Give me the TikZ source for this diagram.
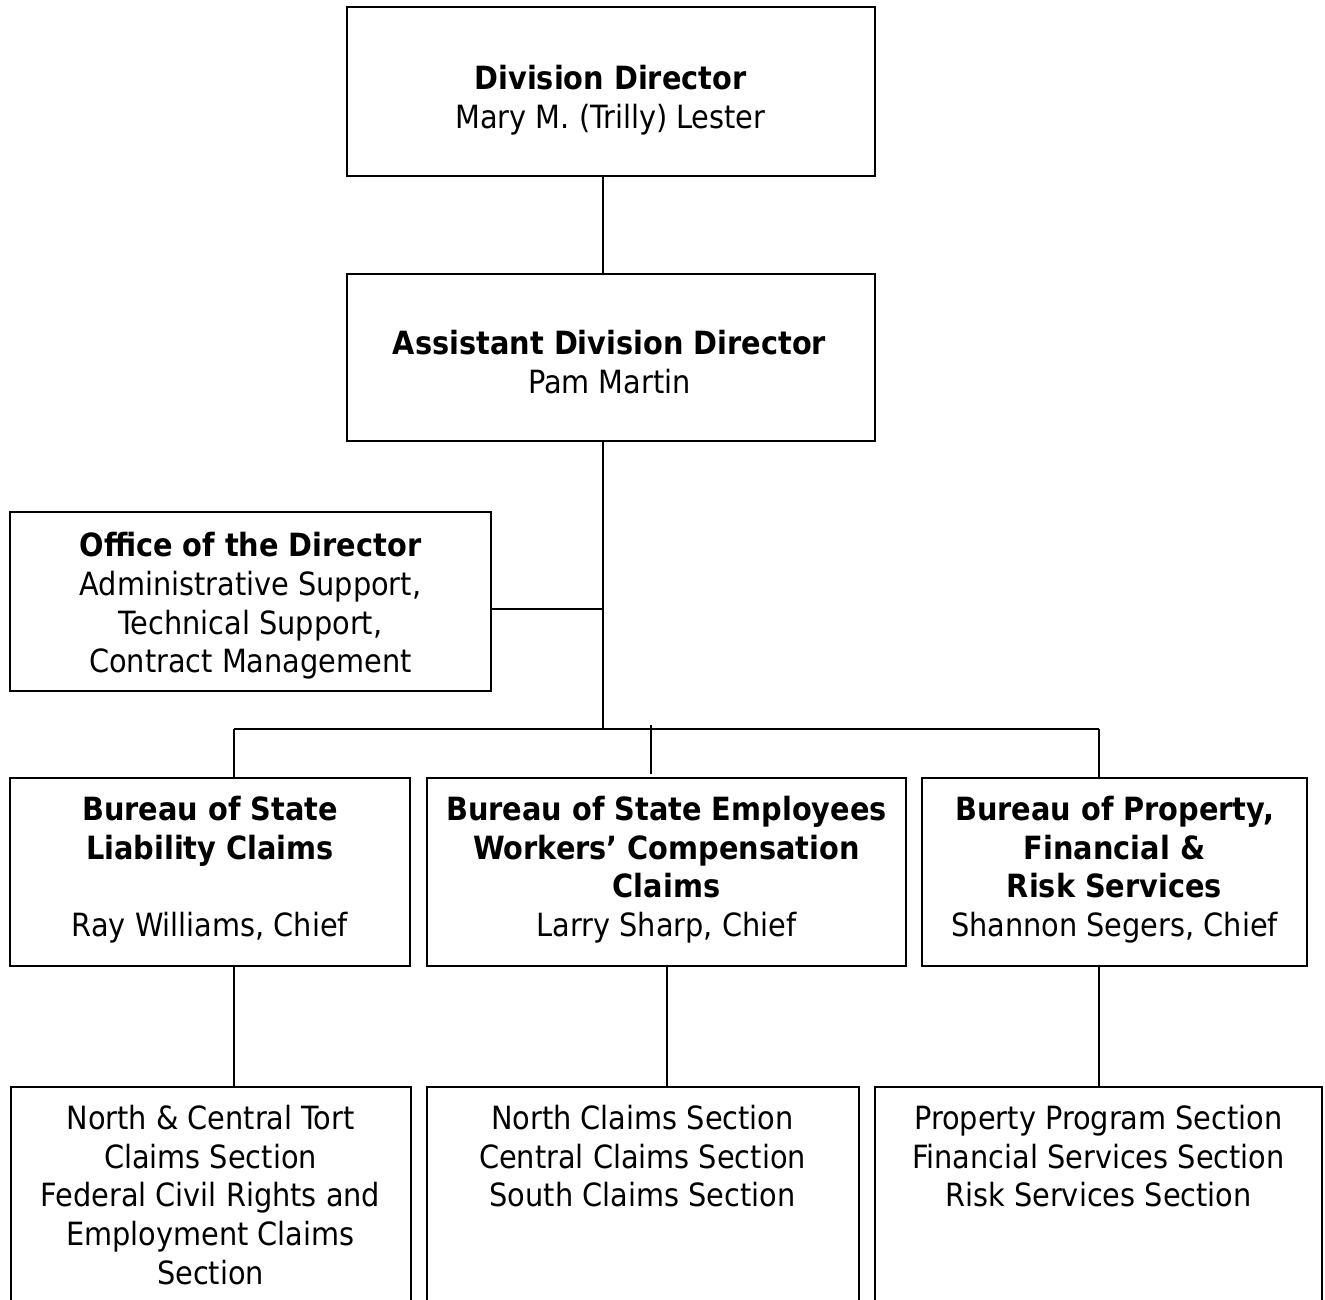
\documentclass[tikz,border=0pt]{standalone}
\usepackage{fontspec}
\setmainfont{DejaVu Sans Condensed}
\begin{document}
\begin{tikzpicture}[x=0.5pt,y=-0.5pt,
  box/.style={draw,line width=1pt,inner sep=0pt},
  txt/.style={inner sep=0pt,align=center,font=\fontsize{16}{19.3}\selectfont},
  conn/.style={line width=1pt}]
\useasboundingbox (0,0) rectangle (1325,1299);
\clip (0,0) rectangle (1325,1299);
% boxes
\node[box,minimum width=264pt,minimum height=84.5pt] (dd) at (610.5,92) {};
\node[box,minimum width=264pt,minimum height=83.5pt] (add) at (610.5,357.5) {};
\node[box,minimum width=240.5pt,minimum height=89.5pt] (off) at (250.5,601.5) {};
\node[box,minimum width=200pt,minimum height=94pt] (b1) at (210,872) {};
\node[box,minimum width=239.5pt,minimum height=94pt] (b2) at (666.5,872) {};
\node[box,minimum width=192.5pt,minimum height=94pt] (b3) at (1114.5,872) {};
% section boxes (bottom edge runs off the page)
\node[box,minimum width=200pt,minimum height=130pt,anchor=north] (s1) at (210.5,1086) {};
\node[box,minimum width=216pt,minimum height=130pt,anchor=north] (s2) at (642.5,1086) {};
\node[box,minimum width=223.5pt,minimum height=130pt,anchor=north] (s3) at (1098.5,1086) {};
% texts
\node[txt] (ddt) at (610.5,100) {\textbf{Division Director}\\Mary M. (Trilly) Lester};
\node[txt] (addt) at (609.5,362) {\textbf{Assistant Division Director}\\Pam Martin};
\node[txt] (offt) at (250.5,606) {\textbf{Office of the Director}\\Administrative Support,\\Technical Support,\\Contract Management};
\node[txt] (b1t) at (210,869.5) {\textbf{Bureau of State}\\\textbf{Liability Claims}\\[19.3pt]Ray Williams, Chief};
\node[txt] (b2t) at (666.5,869.5) {\textbf{Bureau of State Employees}\\\textbf{Workers' Compensation}\\\textbf{Claims}\\Larry Sharp, Chief};
\node[txt] (b3t) at (1114.5,869.5) {\textbf{Bureau of Property,}\\\textbf{Financial \&}\\\textbf{Risk Services}\\Shannon Segers, Chief};
\node[txt,anchor=north] (t1) at (210.5,1105) {North \& Central Tort\\Claims Section\\Federal Civil Rights and\\Employment Claims\\Section};
\node[txt,anchor=north] (t2) at (642.5,1105) {North Claims Section\\Central Claims Section\\South Claims Section};
\node[txt,anchor=north] (t3) at (1098.5,1105) {Property Program Section\\Financial Services Section\\Risk Services Section};
% junction coordinates
\coordinate (trunk) at (603,729);
\coordinate (offj) at (603,609);
\coordinate (c1) at (234,729);
\coordinate (c3) at (1099,729);
\coordinate (m1) at (651,725);
\coordinate (m2) at (651,774);
\coordinate (l2) at (667,729);
% connectors
\draw[conn] (dd.south -| trunk) -- (add.north -| trunk);
\draw[conn] (add.south -| trunk) -- (trunk);
\draw[conn] (offj -| off.east) -- (offj);
\draw[conn] (c1) -- (c3);
\draw[conn] (c1) -- (c1 |- b1.north);
\draw[conn] (c3) -- (c3 |- b3.north);
\draw[conn] (m1) -- (m2);
\draw[conn] (c1 |- b1.south) -- (c1 |- s1.north);
\draw[conn] (l2 |- b2.south) -- (l2 |- s2.north);
\draw[conn] (c3 |- b3.south) -- (c3 |- s3.north);
\end{tikzpicture}
\end{document}
